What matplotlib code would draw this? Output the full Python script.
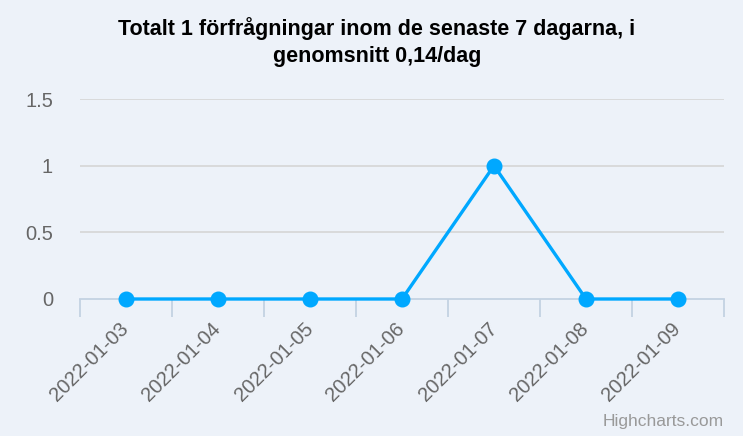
import matplotlib
matplotlib.use("Agg")
import matplotlib.pyplot as plt
from matplotlib.ticker import FixedLocator

# Daily request counts
dates = ["2022-01-03", "2022-01-04", "2022-01-05", "2022-01-06",
         "2022-01-07", "2022-01-08", "2022-01-09"]
counts = [0, 0, 0, 0, 1, 0, 0]
y_ticks = [0, 0.5, 1, 1.5]
y_tick_labels = ["0", "0.5", "1", "1.5"]
title = "Totalt 1 förfrågningar inom de senaste 7 dagarna, i\ngenomsnitt 0,14/dag"
credit = "Highcharts.com"

plt.rcParams["font.family"] = ["Liberation Sans", "DejaVu Sans"]

W, H = 743, 436
BG = "#EDF2F9"
LINE = "#00A8FF"
GRID = "#D6D6D6"
AXIS = "#C4D2E2"
LABEL = "#666666"

fig = plt.figure(figsize=(W / 100, H / 100), dpi=100, facecolor=BG)

# plot area in pixels
left, right, top, bottom = 80, 724, 99, 299
ax = fig.add_axes([left / W, (H - bottom) / H, (right - left) / W, (bottom - top) / H])
ax.set_facecolor(BG)

n = len(dates)
x = list(range(n))
ax.set_xlim(-0.5, n - 0.5)
ax.set_ylim(0, 1.5)

# horizontal grid lines
for v in y_ticks[1:]:
    ax.axhline(v, color=GRID, lw=1.2, zorder=1)

ax.plot(x, counts, color=LINE, lw=2.4, zorder=3, solid_capstyle="round",
        marker="o", markersize=10.5, markerfacecolor=LINE, markeredgecolor=LINE,
        clip_on=False)

for s in ["top", "right", "left"]:
    ax.spines[s].set_visible(False)
ax.spines["bottom"].set_color(AXIS)
ax.spines["bottom"].set_linewidth(1.3)
ax.spines["bottom"].set_zorder(2)

# category boundary ticks
ax.xaxis.set_major_locator(FixedLocator([i - 0.5 for i in range(n + 1)]))
ax.tick_params(axis="x", which="major", length=13, width=1.3, color=AXIS,
               labelbottom=False)
ax.xaxis.set_minor_locator(FixedLocator(x))
ax.set_xticklabels(dates, minor=True)
ax.tick_params(axis="x", which="minor", length=0, pad=19.5, labelsize=14.5,
               labelcolor=LABEL)
for lbl in ax.get_xticklabels(minor=True):
    lbl.set_rotation(45)
    lbl.set_ha("right")
    lbl.set_va("center")
    lbl.set_rotation_mode("anchor")

ax.yaxis.set_major_locator(FixedLocator(y_ticks))
ax.set_yticklabels(y_tick_labels)
ax.tick_params(axis="y", length=0, pad=19.5, labelsize=14.5, labelcolor=LABEL)

fig.text(377 / W, 1 - 17 / H, title, ha="center", va="top", fontsize=15.5,
         fontweight="bold", color="#000000", linespacing=1.38)
fig.text(724 / W, 1 - 421 / H, credit, ha="right", va="center", fontsize=12.5,
         color="#999999")

fig.savefig("out.png", dpi=100, facecolor=BG)
